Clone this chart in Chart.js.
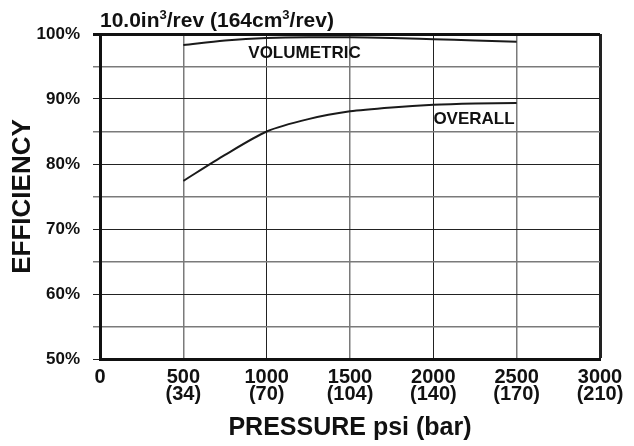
<!DOCTYPE html>
<html>
<head>
<meta charset="utf-8">
<script src="https://cdn.jsdelivr.net/npm/chart.js@4"></script>
<style>
  body { margin: 0; background: #fff; }
  #wrap { width: 634px; height: 446px; position: relative; }
</style>
</head>
<body>
<div id="wrap"><canvas id="eff-chart"></canvas></div>
<script>
// pressure in psi
const pressure = [500, 750, 1000, 1250, 1500, 1750, 2000, 2250, 2500];
const volumetric = [98.3, 99.0, 99.4, 99.5, 99.5, 99.4, 99.2, 99.0, 98.8];
const overall = [77.4, 81.4, 85.0, 86.9, 88.1, 88.7, 89.1, 89.3, 89.4];

// x tick labels: psi + (bar)
const psiTicks = [0, 500, 1000, 1500, 2000, 2500, 3000];
const barTicks = ['', '(34)', '(70)', '(104)', '(140)', '(170)', '(210)'];

const FONT = "'Liberation Sans', Arial, Helvetica, sans-serif";

// curve names + title drawn on top
const textPlugin = {
  id: 'curveText',
  afterDraw(chart) {
    const {ctx, scales: {x, y}, chartArea} = chart;
    ctx.save();
    ctx.fillStyle = '#111';
    ctx.textBaseline = 'alphabetic';
    ctx.font = 'bold 17px ' + FONT;
    ctx.textAlign = 'center';
    ctx.fillText('VOLUMETRIC', x.getPixelForValue(1227), y.getPixelForValue(96.3));
    ctx.fillText('OVERALL', x.getPixelForValue(2244), y.getPixelForValue(86.15));

    // title with superscripts
    ctx.textAlign = 'left';
    let px = chartArea.left;
    const base = 27;
    const parts = [['10.0in', 0], ['3', 1], ['/rev (164cm', 0], ['3', 1], ['/rev)', 0]];
    parts.forEach(([t, sup]) => {
      ctx.font = sup ? 'bold 13px ' + FONT : 'bold 21px ' + FONT;
      ctx.fillText(t, px, sup ? base - 8 : base);
      px += ctx.measureText(t).width;
    });
    ctx.restore();
  }
};

const setupChart = () => {
  const ctx = document.getElementById('eff-chart').getContext('2d');
  new Chart(ctx, {
    type: 'line',
    data: {
      datasets: [
        {
          label: 'VOLUMETRIC',
          data: pressure.map((p, i) => ({x: p, y: volumetric[i]})),
          borderColor: '#1a1a1a',
          borderWidth: 2,
          pointRadius: 0,
          cubicInterpolationMode: 'monotone'
        },
        {
          label: 'OVERALL',
          data: pressure.map((p, i) => ({x: p, y: overall[i]})),
          borderColor: '#1a1a1a',
          borderWidth: 2,
          pointRadius: 0,
          tension: 0.25
        }
      ]
    },
    options: {
      responsive: true,
      maintainAspectRatio: false,
      animation: false,
      layout: { padding: { top: 34, right: 34, left: 0, bottom: 0 } },
      plugins: { legend: { display: false }, tooltip: { enabled: false } },
      scales: {
        x: {
          type: 'linear',
          min: 0,
          max: 3000,
          afterFit: (s) => { s.height = 87; },
          afterBuildTicks: (s) => { s.ticks = psiTicks.map(v => ({value: v})); },
          border: { width: 3, color: '#111' },
          grid: {
            drawTicks: false,
            color: (c) => (c.tick.value % 1000 === 0 ? '#222' : '#7a7a7a'),
            lineWidth: (c) => (c.tick.value === 3000 ? 3 : (c.tick.value % 1000 === 0 ? 1 : 1.5))
          },
          ticks: {
            color: '#111',
            padding: 10,
            maxRotation: 0,
            autoSkip: false,
            font: { family: FONT, size: 20, weight: 'bold', lineHeight: '17px' },
            callback: (v) => {
              const i = psiTicks.indexOf(v);
              return i > 0 ? [String(v), barTicks[i]] : String(v);
            }
          },
          title: {
            display: true,
            text: 'PRESSURE psi (bar)',
            color: '#111',
            padding: { top: 0, bottom: 3 },
            font: { family: FONT, size: 25, weight: 'bold' }
          }
        },
        y: {
          min: 50,
          max: 100,
          afterFit: (s) => { s.width = 100; },
          border: { width: 3, color: '#111' },
          grid: {
            tickLength: 7,
            color: (c) => (c.tick.value === 100 ? '#111' : (c.tick.value % 10 === 0 ? '#222' : '#7a7a7a')),
            lineWidth: (c) => (c.tick.value === 100 ? 3 : (c.tick.value % 10 === 0 ? 1 : 1.5))
          },
          ticks: {
            stepSize: 5,
            color: '#111',
            padding: 13,
            font: { family: FONT, size: 17, weight: 'bold' },
            callback: (v) => (v % 10 === 0 ? v + '%' : '')
          },
          title: {
            display: true,
            text: 'EFFICIENCY',
            color: '#111',
            padding: { top: 7, bottom: 0 },
            font: { family: FONT, size: 26, weight: 'bold' }
          }
        }
      }
    },
    plugins: [textPlugin]
  });
};

document.addEventListener('DOMContentLoaded', () => {
  setupChart();
});
</script>
</body>
</html>
